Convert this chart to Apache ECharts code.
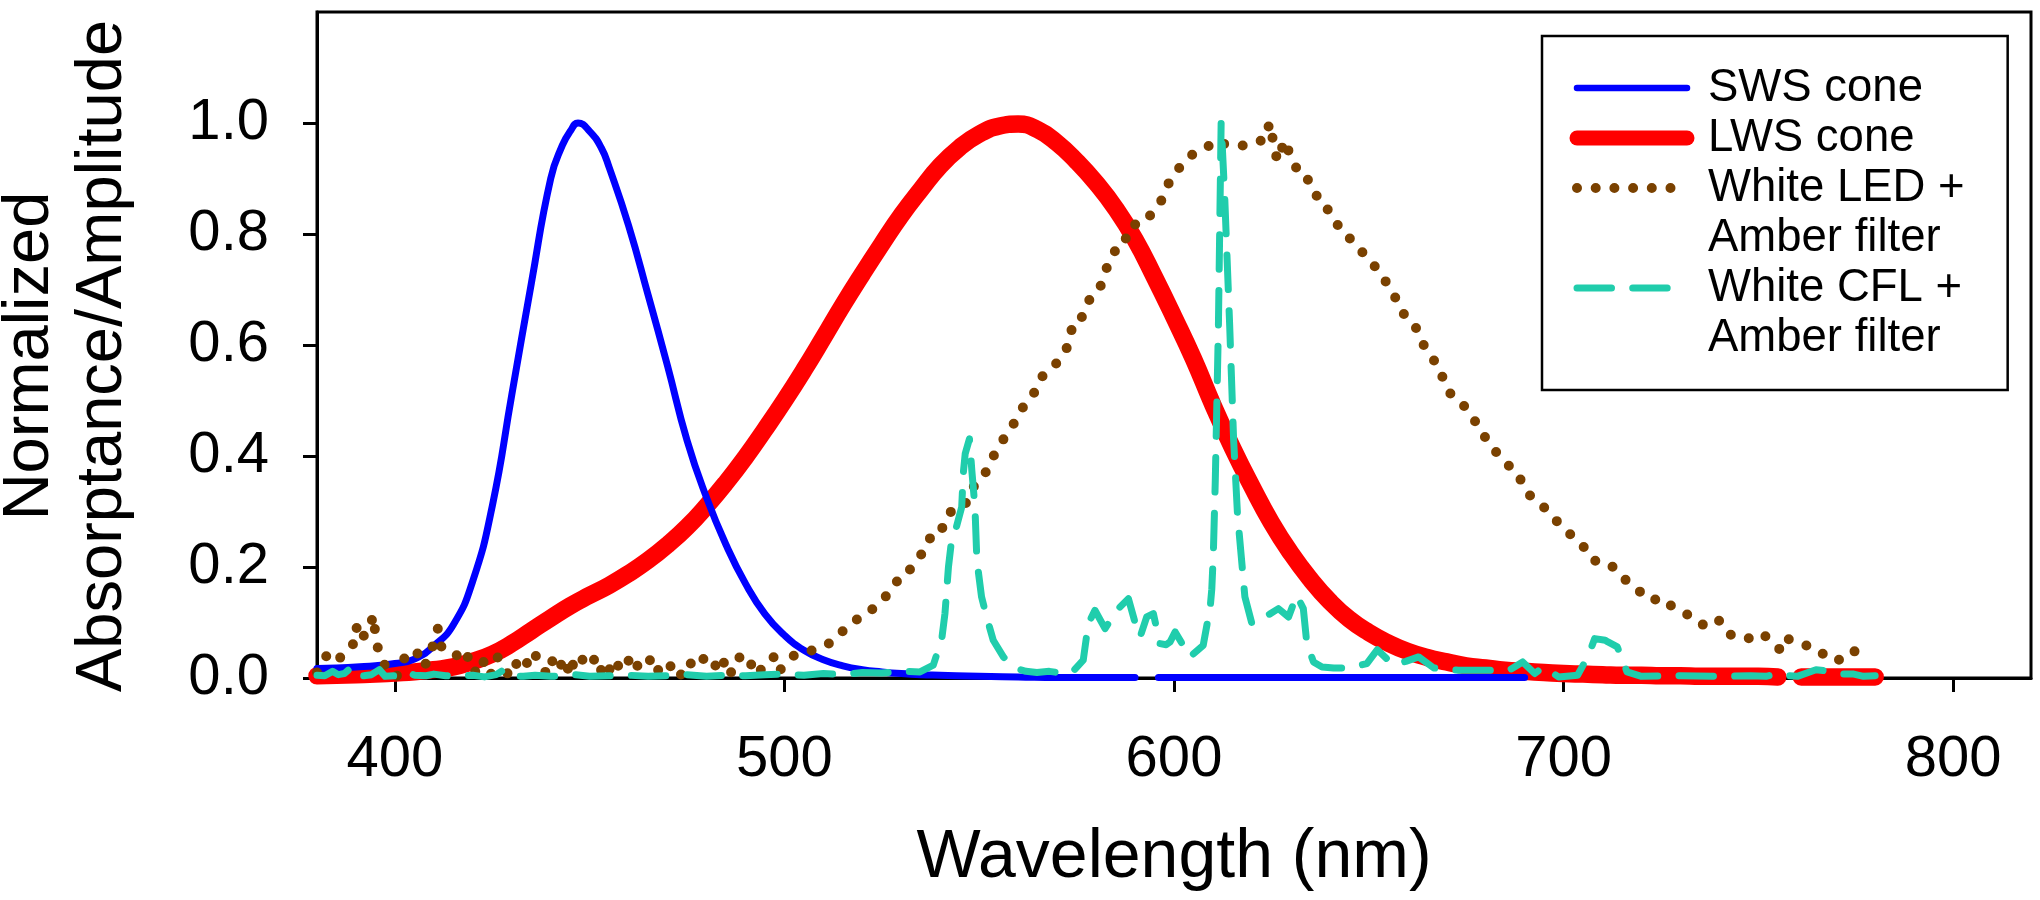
<!DOCTYPE html>
<html><head><meta charset="utf-8">
<script src="https://cdn.jsdelivr.net/npm/echarts@6/dist/echarts.min.js"></script>
<style>html,body{margin:0;padding:0;background:#fff}#chart{width:2040px;height:900px}</style>
</head><body><div id="chart"></div>
<script>
// ---- tick labels ----
const xTicks = [400, 500, 600, 700, 800];
const yTicks = [0, 0.2, 0.4, 0.6, 0.8, 1.0];

// ---- series names ----
const seriesNames = ['SWS cone', 'LWS cone', 'White LED +', 'Amber filter', 'White CFL +', 'Amber filter '];

// ---- SWS cone absorptance [nm, value] (null = gap in the drawn line) ----
const swsData = [
  [380,0.017],[385,0.018],[390,0.020],[395,0.022],[400,0.026],[405,0.034],[410,0.058],[415,0.096],
  [420,0.175],[425,0.31],[430,0.51],[435,0.71],[440,0.90],[443,0.96],[445,0.985],[447,1.0],
  [450,0.985],[453,0.955],[455,0.92],[460,0.815],[465,0.69],[470,0.562],[475,0.428],[480,0.325],
  [485,0.24],[490,0.17],[495,0.115],[500,0.077],[505,0.05],[510,0.033],[515,0.022],[520,0.015],
  [525,0.011],[530,0.008],[535,0.006],[540,0.005],[550,0.003],[560,0.002],[570,0.001],[580,0.001],
  [590,0.001],[593,null],[596,0.001],[600,0.001],[620,0.001],[640,0.001],[660,0.001],[680,0.001],[690,0.001]
];

// ---- LWS cone absorptance [nm, value] ----
const lwsData = [
  [380,0.004],[385,0.005],[390,0.006],[395,0.007],[400,0.009],[405,0.011],[410,0.015],[415,0.020],
  [420,0.030],[425,0.043],[430,0.062],[435,0.085],[440,0.108],[445,0.130],[450,0.149],[455,0.167],
  [460,0.188],[465,0.212],[470,0.240],[475,0.272],[480,0.310],[485,0.352],[490,0.398],[495,0.448],
  [500,0.500],[505,0.555],[510,0.613],[515,0.672],[520,0.728],[525,0.782],[530,0.834],[535,0.880],
  [540,0.923],[545,0.956],[550,0.980],[555,0.994],[560,0.998],[565,0.988],[570,0.964],[575,0.931],
  [580,0.892],[585,0.846],[590,0.790],[595,0.722],[600,0.650],[605,0.575],[610,0.492],[615,0.415],
  [620,0.345],[625,0.280],[630,0.225],[635,0.178],[640,0.138],[645,0.106],[650,0.082],[655,0.063],
  [660,0.048],[665,0.037],[670,0.029],[675,0.022],[680,0.018],[685,0.014],[690,0.012],[695,0.010],
  [700,0.008],[705,0.007],[710,0.006],[715,0.005],[720,0.005],[725,0.004],[730,0.004],[735,0.003],
  [740,0.003],[745,0.003],[750,0.003],[755,0.002],[758,null],[761,0.002],[765,0.002],[770,0.002],
  [775,0.002],[780,0.002]
];

// ---- White LED + Amber filter, normalized amplitude [nm, value] ----
const ledData = [
  [380,0.010],[381.5,0.030],[383,0.046],[384.5,0.044],[385.6,0.035],[387,0.042],[388.2,0.053],[389.2,0.060],
  [390.1,0.092],[391,0.068],[392.1,0.077],[393.3,0.083],[394.4,0.113],[395.1,0.074],[395.8,0.047],[396.8,0.030],
  [397.7,0.020],[399.2,0.020],[400.5,0.004],[402,0.030],[403.6,0.050],[405,0.045],[405.9,0.044],[407.5,0.020],
  [409.2,0.045],[411,0.089],[411.7,0.057],[413.6,0.055],[415.4,0.047],[417,0.026],[419,0.040],[421,0.005],
  [423,0.032],[424.6,0.006],[426.3,0.038],[428,0.018],[429.5,0.002],[431.5,0.030],[432.6,0.040],[434.6,0.020],
  [436,0.041],[437.4,0.030],[439,0.005],[440.5,0.032],[442,0.014],[443.5,0.036],[445,0.004],[446.2,0.038],
  [447.5,0.041],[449,0.022],[451,0.035],[452.5,0.008],[454,0.030],[456,0.004],[458,0.032],[459.5,0.040],
  [461,0.012],[463,0.028],[465,0.039],[467,0.008],[469,0.030],[471,0.020],[473,0.000],[475,0.030],
  [477,0.022],[478.5,0.038],[480,0.030],[481.5,0.036],[483,0.010],[484.5,0.028],[486,0.004],[487.5,0.036],
  [489.5,0.038],[491,0.020],[492.5,0.034],[494,0.014],[495.6,0.028],[497.3,0.038],[498.5,0.012],[500.2,0.024],
  [502.5,0.041],[504.5,0.045],[506.5,0.048],[508.8,0.055],[511.1,0.061],[513.4,0.071],[515,0.085],[516.8,0.099],
  [518.5,0.105],[520.6,0.112],[523.4,0.129],[526,0.147],[528.6,0.173],[530.9,0.180],[533.1,0.206],[536.5,0.234],
  [538.1,0.267],[540.9,0.271],[543,0.304],[546.4,0.312],[547.8,0.339],[551.2,0.364],[553.5,0.398],[556.1,0.429],
  [558.3,0.451],[560.9,0.485],[563.6,0.506],[565.7,0.540],[569.7,0.566],[572.6,0.596],[573.7,0.627],[575.6,0.632],
  [577,0.667],[579.6,0.696],[581,0.703],[582.6,0.737],[584.4,0.762],[586.1,0.790],[588.7,0.793],[590.4,0.824],
  [592,0.828],[593.6,0.831],[596.6,0.858],[598.6,0.891],[601.2,0.918],[604.1,0.941],[606.4,0.948],[609,0.959],
  [610.3,0.969],[613,0.962],[617.5,0.959],[620.2,0.966],[623.4,0.969],[624.5,1.0],[625.5,0.966],[626.5,0.932],
  [627.4,0.948],[628.4,0.969],[629.5,0.948],[631.4,0.919],[633.7,0.912],[635.2,0.880],[636.5,0.871],[637.5,0.853],
  [638.6,0.850],[640.5,0.837],[642.4,0.811],[644.2,0.803],[645.8,0.784],[648,0.770],[651,0.747],[654.3,0.715],
  [657.1,0.682],[659.5,0.649],[662.1,0.631],[663.8,0.603],[666.7,0.573],[667.7,0.551],[669.3,0.540],[670.9,0.513],
  [673.9,0.495],[676.5,0.472],[679.1,0.441],[682.7,0.407],[685.7,0.384],[688.3,0.369],[689.6,0.346],[692.2,0.321],
  [695.5,0.305],[697.5,0.288],[701.4,0.261],[704.7,0.241],[707.5,0.212],[710.7,0.209],[713.8,0.195],[716.6,0.171],
  [720.5,0.151],[722.7,0.139],[724.8,0.145],[728.4,0.126],[732.4,0.112],[735.7,0.096],[738.6,0.108],[740.8,0.100],
  [742.9,0.078],[745.4,0.071],[748.7,0.072],[751,0.080],[753,0.068],[756.2,0.047],[757.8,0.070],[761.7,0.060],
  [765.5,0.051],[768.1,0.033],[770.9,0.033],[773.3,0.048],[775.2,0.048],[777.4,0.038]
];

// ---- White CFL + Amber filter, normalized amplitude [nm, value] ----
const cflData = [
  [380,0.005],[382,0.004],[384,0.012],[385.5,0.006],[387,0.008],[389,0.020],[390.5,0.005],[392,0.004],
  [394,0.006],[396,0.015],[397.5,0.003],[400,0.004],[403,0.012],[405,0.005],[408,0.004],[410,0.007],
  [413,0.004],[416,0.003],[420,0.005],[423,0.002],[426,0.006],[428,0.015],[430,0.004],[433,0.003],
  [436,0.005],[440,0.003],[443,0.004],[446,0.006],[450,0.003],[455,0.004],[460,0.005],[465,0.003],
  [470,0.004],[475,0.006],[480,0.003],[485,0.005],[490,0.004],[495,0.006],[500,0.007],[505,0.005],
  [510,0.008],[515,0.006],[520,0.010],[525,0.009],[530,0.012],[534.8,0.011],[538.2,0.023],[540.4,0.071],
  [541.2,0.116],[542.1,0.200],[542.9,0.248],[543.8,0.263],[545.5,0.308],[545.9,0.368],[546.4,0.404],[547.5,0.431],
  [548.1,0.374],[548.9,0.308],[549.4,0.212],[550.6,0.146],[551.9,0.110],[553.6,0.068],[556.2,0.038],[559.6,0.017],
  [562,0.012],[564.8,0.010],[568,0.012],[571,0.009],[573.8,0.010],[576.7,0.032],[578,0.098],[579.7,0.122],
  [582.3,0.089],[585.3,0.122],[588.3,0.143],[590,0.100],[591.3,0.074],[593,0.110],[594.7,0.116],[596.4,0.062],
  [598,0.060],[599,0.065],[600.3,0.083],[604.1,0.038],[607.5,0.059],[609.3,0.128],[609.7,0.160],[610.1,0.224],
  [610.6,0.356],[611.4,0.634],[612.1,1.0],[613,0.870],[614.3,0.634],[615.3,0.430],[616.3,0.295],[618.2,0.146],
  [620,0.098],[622.3,0.106],[624.5,0.115],[626.8,0.125],[629.4,0.110],[631.5,0.149],[633.2,0.125],[634.1,0.062],
  [635.8,0.029],[638,0.020],[641,0.018],[645.2,0.018],[649.5,0.026],[652.2,0.051],[656.2,0.024],[659.5,0.030],
  [662.8,0.038],[666.7,0.018],[673,0.014],[680,0.014],[686,0.014],[689.5,0.029],[692.6,0.008],[694.8,0.020],
  [698.7,0.002],[703.6,0.005],[706.2,0.038],[708,0.071],[710.7,0.068],[711.4,0.065],[713.8,0.056],[716.3,0.011],
  [720,0.003],[730,0.004],[740,0.003],[748,0.004],[752,0.003],[755,0.008],[758,0.004],[760,0.003],
  [764.8,0.015],[767,0.013],[770,0.007],[774.5,0.007],[777,0.003],[780,0.004]
];

const FONT = "'Liberation Sans', Arial, Helvetica, sans-serif";
const BLUE = '#0000ff', RED = '#ff0000', BROWN = '#7a4100', TEAL = '#20cdac';
const LED_DASH = [0, 18.7], CFL_DASH = [34.5, 21.2];
const W_SWS = 7, W_LWS = 17.5, W_LED = 10, W_CFL = 7;

const chart = echarts.init(document.getElementById('chart'), null, {renderer: 'canvas', width: 2040, height: 900});

const axisLineStyle = {color: '#000', width: 3};
const hiddenSymbol = {opacity: 0, borderWidth: 0};

const option = {
  animation: false,
  backgroundColor: '#ffffff',
  textStyle: {fontFamily: FONT},
  grid: {
    left: 317, right: 9, top: 12, bottom: 222,
    show: true, borderColor: '#000', borderWidth: 3, backgroundColor: 'transparent',
    containLabel: false, outerBoundsMode: 'none'
  },
  xAxis: {
    type: 'value', min: 380, max: 820,
    name: 'Wavelength (nm)', nameLocation: 'middle', nameGap: 146, nameMoveOverlap: false,
    nameTextStyle: {fontSize: 68, color: '#000', fontFamily: FONT},
    axisLine: {show: true, onZero: false, lineStyle: axisLineStyle},
    axisTick: {show: true, customValues: xTicks, length: 14, inside: false, lineStyle: axisLineStyle},
    axisLabel: {show: true, customValues: xTicks, fontSize: 58, color: '#000', margin: 53, fontFamily: FONT},
    splitLine: {show: false}
  },
  yAxis: {
    type: 'value', min: 0, max: 1.2,
    name: 'Normalized\nAbsorptance/Amplitude', nameLocation: 'middle', nameGap: 177, nameMoveOverlap: false,
    nameTextStyle: {fontSize: 65, lineHeight: 73, color: '#000', fontFamily: FONT, padding: [0, 22, 0, 0]},
    axisLine: {show: true, onZero: false, lineStyle: axisLineStyle},
    axisTick: {show: true, customValues: yTicks, length: 14, inside: false, lineStyle: axisLineStyle},
    axisLabel: {show: true, customValues: yTicks, formatter: function (v) { return Number(v).toFixed(1); },
      fontSize: 58, color: '#000', margin: 48, fontFamily: FONT},
    splitLine: {show: false}
  },
  legend: {
    show: true, orient: 'vertical', left: 1542, top: 36,
    padding: [27, 43, 27, 27.5],
    itemWidth: 110, itemHeight: 15, itemGap: 0,
    backgroundColor: '#fff', borderColor: '#000', borderWidth: 2.5,
    selectedMode: false,
    itemStyle: hiddenSymbol,
    textStyle: {fontSize: 45.5, lineHeight: 50, color: '#000', fontFamily: FONT, padding: [0, 0, 0, 16]},
    data: [
      {name: seriesNames[0], itemStyle: hiddenSymbol, lineStyle: {width: 6.5, color: BLUE, cap: 'round', type: 'solid', opacity: 1}},
      {name: seriesNames[1], itemStyle: hiddenSymbol, lineStyle: {width: 15, color: RED, cap: 'round', type: 'solid', opacity: 1}},
      {name: seriesNames[2], itemStyle: hiddenSymbol, lineStyle: {width: W_LED, color: BROWN, cap: 'round', type: LED_DASH, opacity: 1}},
      {name: seriesNames[3], itemStyle: hiddenSymbol, lineStyle: {width: 0, opacity: 0}},
      {name: seriesNames[4], itemStyle: hiddenSymbol, lineStyle: {width: W_CFL, color: TEAL, cap: 'round', type: CFL_DASH, opacity: 1}},
      {name: seriesNames[5], itemStyle: hiddenSymbol, lineStyle: {width: 0, opacity: 0}}
    ]
  },
  series: [
    {
      name: seriesNames[1], type: 'line', data: lwsData, showSymbol: false, symbol: 'none',
      smooth: 0.5, connectNulls: false, color: RED,
      lineStyle: {color: RED, width: W_LWS, cap: 'round', join: 'round'}, z: 2
    },
    {
      name: seriesNames[0], type: 'line', data: swsData, showSymbol: false, symbol: 'none',
      smooth: 0.5, connectNulls: false, color: BLUE,
      lineStyle: {color: BLUE, width: W_SWS, cap: 'round', join: 'round'}, z: 3
    },
    {
      name: seriesNames[2], type: 'line', data: ledData, showSymbol: false, symbol: 'none',
      smooth: false, color: BROWN,
      lineStyle: {color: BROWN, width: W_LED, type: LED_DASH, cap: 'round', join: 'round'}, z: 4
    },
    {
      name: seriesNames[4], type: 'line', data: cflData, showSymbol: false, symbol: 'none',
      smooth: false, color: TEAL,
      lineStyle: {color: TEAL, width: W_CFL, type: CFL_DASH, cap: 'round', join: 'round'}, z: 5
    },
    {name: seriesNames[3], type: 'line', data: [], showSymbol: false, symbol: 'none', color: 'rgba(0,0,0,0)', lineStyle: {width: 0, opacity: 0}},
    {name: seriesNames[5], type: 'line', data: [], showSymbol: false, symbol: 'none', color: 'rgba(0,0,0,0)', lineStyle: {width: 0, opacity: 0}}
  ]
};
chart.setOption(option);
</script>
</body></html>
